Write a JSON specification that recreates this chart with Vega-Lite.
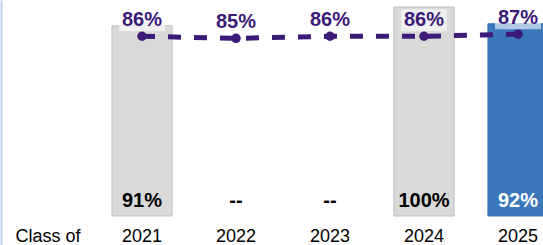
{
  "$schema": "https://vega.github.io/schema/vega-lite/v6.json",
  "width": 564,
  "height": 245,
  "autosize": "none",
  "padding": {"left": 1, "top": 0, "right": 0, "bottom": 0},
  "background": "white",
  "config": {"view": {"stroke": null}, "font": "Liberation Sans"},
  "data": {"values": [
    {"year": "Class of", "bar": null, "line": null, "lineLabel": null, "barLabel": null, "kind": "none"},
    {"year": "2021", "bar": 91, "line": 86, "lineLabel": "86%", "barLabel": "91%", "kind": "past"},
    {"year": "2022", "bar": null, "line": 85, "lineLabel": "85%", "barLabel": "--", "kind": "empty"},
    {"year": "2023", "bar": null, "line": 86, "lineLabel": "86%", "barLabel": "--", "kind": "empty"},
    {"year": "2024", "bar": 100, "line": 86, "lineLabel": "86%", "barLabel": "100%", "kind": "past"},
    {"year": "2025", "bar": 92, "line": 87, "lineLabel": "87%", "barLabel": "92%", "kind": "current"}
  ]},
  "encoding": {
    "x": {
      "field": "year", "type": "ordinal", "sort": null,
      "scale": {"domain": ["Class of", "2021", "2022", "2023", "2024", "2025"], "paddingInner": 0.36, "paddingOuter": 0.18},
      "axis": {
        "orient": "bottom", "offset": -4, "title": null, "domain": false,
        "ticks": false, "tickSize": 0, "labelPadding": 0, "labelBaseline": "alphabetic",
        "labelAngle": 0, "labelFont": "Liberation Sans", "labelFontSize": 18,
        "labelColor": "#000000"
      }
    }
  },
  "layer": [
    {
      "transform": [{"filter": "datum.bar != null"}],
      "mark": {"type": "bar", "strokeWidth": 1},
      "encoding": {
        "y": {
          "field": "bar", "type": "quantitative",
          "scale": {"domain": [-13.876, 103.35], "nice": false, "zero": false},
          "axis": {"orient": "left", "title": null, "labels": false, "ticks": false, "grid": false, "domain": true, "domainColor": "#bdd4ee", "domainWidth": 2}
        },
        "y2": {"datum": 0},
        "color": {"field": "kind", "type": "nominal", "legend": null,
          "scale": {"domain": ["past", "current"], "range": ["#d9d9d9", "#3a77bb"]}},
        "stroke": {"field": "kind", "type": "nominal", "legend": null,
          "scale": {"domain": ["past", "current"], "range": ["#bfbfbf", "#3a77bb"]}}
      }
    },
    {
      "transform": [{"filter": "datum.line != null"}],
      "mark": {"type": "point", "filled": true, "color": "#ffffff", "opacity": 0.6, "size": 2116, "shape": "M-1,-0.48H1V0.48H-1Z", "yOffset": -16},
      "encoding": {"y": {"field": "line", "type": "quantitative"}}
    },
    {
      "transform": [{"filter": "datum.line != null"}],
      "mark": {"type": "line", "color": "#3b1a78", "strokeWidth": 5, "strokeDash": [13, 13]},
      "encoding": {"y": {"field": "line", "type": "quantitative"}}
    },
    {
      "transform": [{"filter": "datum.line != null"}],
      "mark": {"type": "point", "filled": true, "color": "#3b1a78", "opacity": 1, "size": 90},
      "encoding": {"y": {"field": "line", "type": "quantitative"}}
    },
    {
      "transform": [{"filter": "datum.line != null"}],
      "mark": {"type": "text", "font": "Liberation Sans", "fontSize": 20, "fontWeight": "bold", "color": "#3b1a78", "baseline": "alphabetic", "dy": -10},
      "encoding": {"y": {"field": "line", "type": "quantitative"}, "text": {"field": "lineLabel"}}
    },
    {
      "transform": [{"filter": "datum.barLabel != null"}],
      "mark": {"type": "text", "font": "Liberation Sans", "fontSize": 20, "fontWeight": "bold", "baseline": "alphabetic", "dy": -9},
      "encoding": {
        "y": {"datum": 0},
        "text": {"field": "barLabel"},
        "color": {"field": "kind", "type": "nominal", "legend": null,
          "scale": {"domain": ["past", "empty", "current"], "range": ["#000000", "#000000", "#ffffff"]}}
      }
    }
  ],
  "resolve": {"scale": {"color": "independent"}}
}
